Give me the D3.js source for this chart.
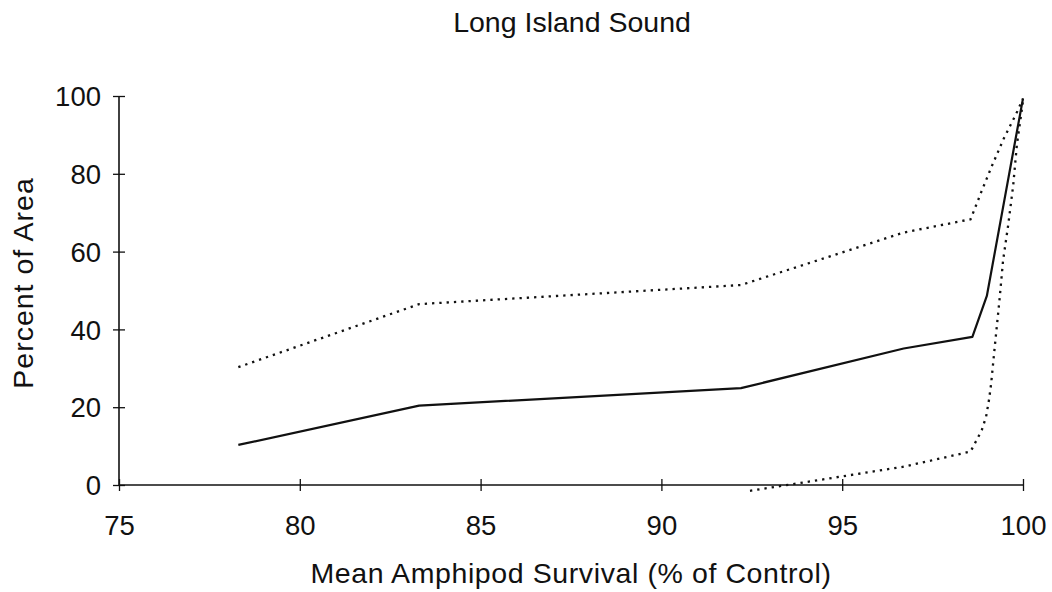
<!DOCTYPE html>
<html>
<head>
<meta charset="utf-8">
<script src="https://cdn.jsdelivr.net/npm/d3@7"></script>
<style>
  html, body { margin: 0; padding: 0; background: #fff; }
  svg { display: block; }
  text { font-family: "Liberation Sans", Arial, Helvetica, sans-serif; fill: #111; }
</style>
</head>
<body>
<svg id="chart" width="1052" height="592"></svg>
<script>
// ---- data ----
const titleText = "Long Island Sound";
const xLabelText = "Mean Amphipod Survival (% of Control)";
const yLabelText = "Percent of Area";
const xTicks = [75, 80, 85, 90, 95, 100];
const yTicks = [0, 20, 40, 60, 80, 100];

// mean curve (solid)
const meanX = [78.3, 83.3, 92.2, 96.7, 98.6, 99.0, 100];
const meanY = [10.3, 20.4, 24.9, 35.1, 38.1, 48.6, 99.4];

// upper bound (dotted)
const upperX = [78.3, 83.3, 92.2, 96.7, 98.55, 98.85, 99.13, 99.47, 99.82, 100];
const upperY = [30.3, 46.5, 51.4, 64.9, 68.3, 75.4, 81.8, 89.1, 95.6, 99.3];

// lower bound (dotted)
const lowerX = [92.45, 96.7, 98.55, 98.72, 98.86, 98.98, 99.06, 99.12, 99.21, 99.35, 99.45, 99.59, 99.73, 99.83, 99.96, 100];
const lowerY = [-1.5, 4.7, 8.6, 11.6, 14.1, 17.6, 21.9, 26.1, 34.7, 47.6, 57.8, 66.8, 77.1, 87.4, 96.0, 98.8];

// ---- layout ----
const svg = d3.select("#chart");
const x = d3.scaleLinear().domain([75, 100]).range([119, 1023]);
const y = d3.scaleLinear().domain([0, 100]).range([485, 96]);

const ink = "#111";

// title
svg.append("text")
  .attr("x", 572).attr("y", 32)
  .attr("text-anchor", "middle")
  .style("font-size", "28.5px")
  .text(titleText);

// y axis
const yAxis = svg.append("g")
  .attr("transform", `translate(${x(75)},0)`)
  .call(d3.axisLeft(y).tickValues(yTicks).tickSize(6).tickPadding(12).tickFormat(d3.format("d")));
yAxis.select(".domain").attr("stroke", ink).attr("stroke-width", 1.6).attr("d", `M0,${y(100)}V${y(0)}`);
yAxis.selectAll(".tick line").attr("stroke", ink).attr("stroke-width", 1.3).attr("x1", -6).attr("x2", 6);
yAxis.selectAll(".tick text").style("font-size", "27.5px").attr("fill", ink)
  .attr("font-family", "Liberation Sans, Arial, sans-serif").attr("dy", "0.35em");

// x axis
const xAxis = svg.append("g")
  .attr("transform", `translate(0,${y(0)})`)
  .call(d3.axisBottom(x).tickValues(xTicks).tickSize(6).tickPadding(0).tickFormat(d3.format("d")));
xAxis.select(".domain").attr("stroke", ink).attr("stroke-width", 1.6).attr("d", `M${x(75)},0H${x(100)}`);
xAxis.selectAll(".tick line").attr("stroke", ink).attr("stroke-width", 1.3).attr("y1", -6).attr("y2", 6);
xAxis.selectAll(".tick text").style("font-size", "27.5px").attr("fill", ink)
  .attr("font-family", "Liberation Sans, Arial, sans-serif")
  .attr("y", 50).attr("dy", 0);

// axis titles
svg.append("text")
  .attr("x", 571).attr("y", 583)
  .attr("text-anchor", "middle")
  .style("font-size", "28.5px")
  .style("letter-spacing", "0.6px")
  .text(xLabelText);

svg.append("text")
  .attr("transform", `translate(33,283) rotate(-90)`)
  .attr("text-anchor", "middle")
  .style("font-size", "28.5px")
  .style("letter-spacing", "1px")
  .text(yLabelText);

// lines
const line = d3.line().x(d => x(d[0])).y(d => y(d[1]));
const zip = (a, b) => a.map((v, i) => [v, b[i]]);

svg.append("path")
  .datum(zip(upperX, upperY))
  .attr("d", line)
  .attr("fill", "none").attr("stroke", ink)
  .attr("stroke-width", 2.3).attr("stroke-dasharray", "2.3,5");

svg.append("path")
  .datum(zip(lowerX, lowerY))
  .attr("d", line)
  .attr("fill", "none").attr("stroke", ink)
  .attr("stroke-width", 2.3).attr("stroke-dasharray", "2.3,5");

svg.append("path")
  .datum(zip(meanX, meanY))
  .attr("d", line)
  .attr("fill", "none").attr("stroke", ink)
  .attr("stroke-width", 2.2).attr("stroke-linejoin", "round");
</script>
</body>
</html>
